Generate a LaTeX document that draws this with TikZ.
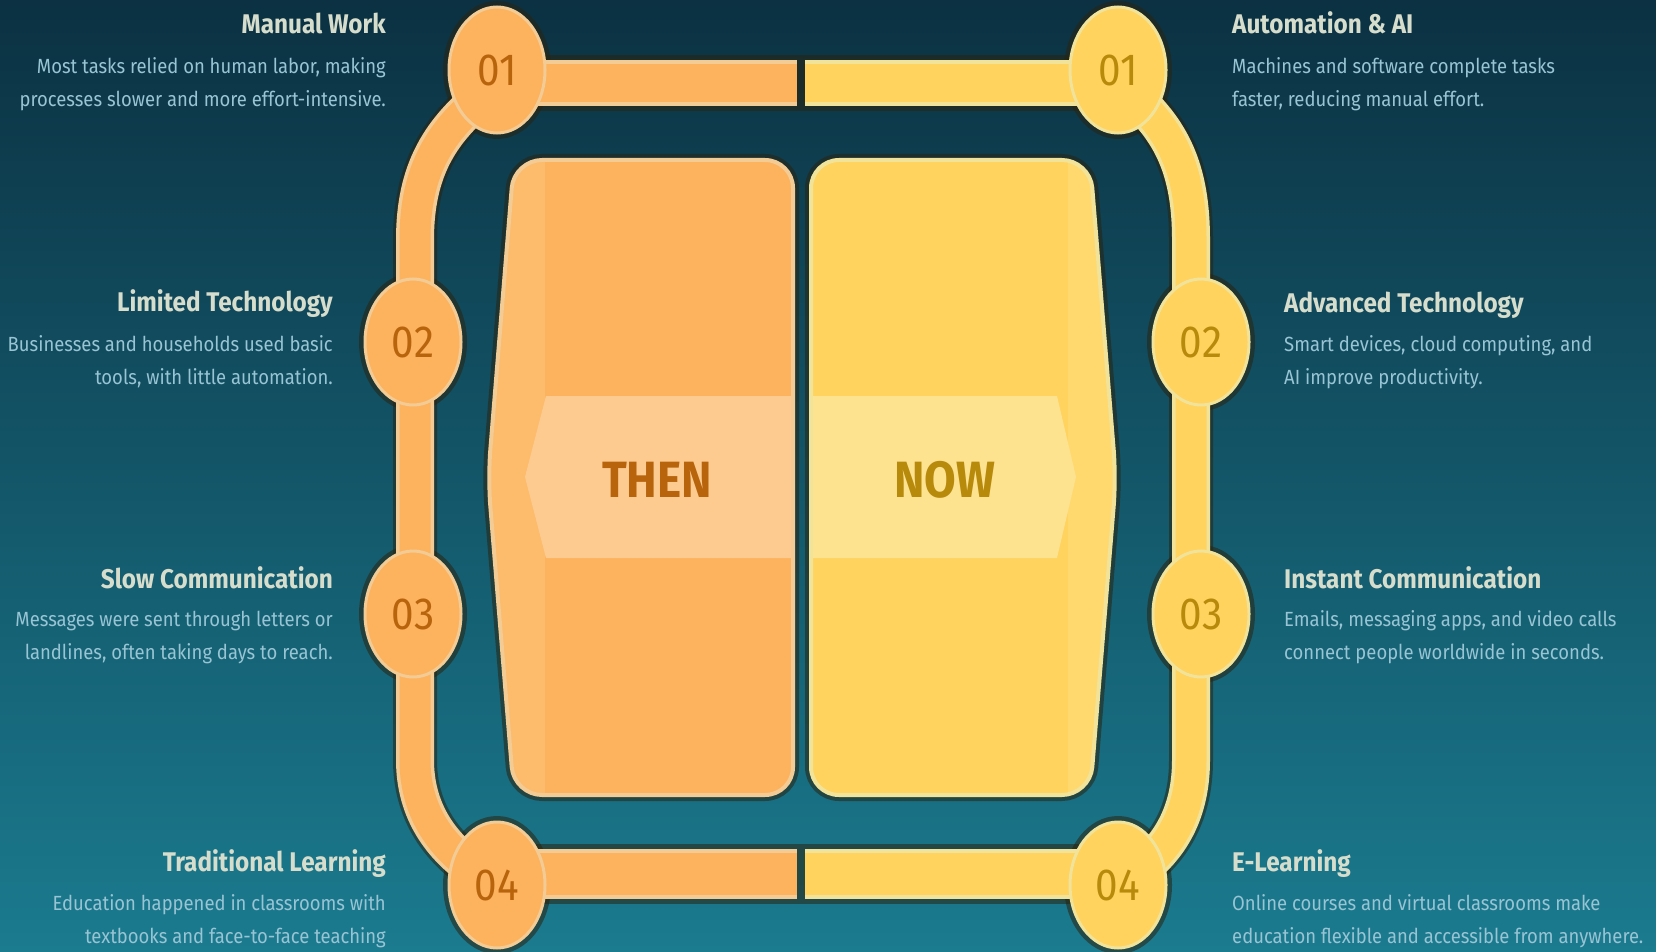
\documentclass[tikz,border=0pt]{standalone}
\usepackage{fontspec}
\setmainfont{Fira Sans}[FakeStretch=0.9]
\usetikzlibrary{shapes.geometric}
\definecolor{bgtop}{HTML}{0B3142}
\definecolor{bgmid}{HTML}{135468}
\definecolor{bgbot}{HTML}{1B7B8F}
\definecolor{outc}{HTML}{2A2410}
\definecolor{orM}{HTML}{FDB25E}
\definecolor{orR}{HTML}{F3CB95}
\definecolor{orS}{HTML}{FDBB6C}
\definecolor{orB}{HTML}{FDCB90}
\definecolor{orT}{HTML}{B8640C}
\definecolor{yeM}{HTML}{FFD35E}
\definecolor{yeR}{HTML}{F2E39A}
\definecolor{yeS}{HTML}{FFD96E}
\definecolor{yeB}{HTML}{FDE290}
\definecolor{yeT}{HTML}{B88A0C}
\definecolor{ttlc}{HTML}{D6DDCC}
\definecolor{dscc}{HTML}{98C4D4}
\tikzset{
  outl/.style={color=outc, opacity=0.55},
  ttl/.style={font=\bfseries\fontsize{27}{32}\selectfont, text=ttlc, inner sep=0pt},
  dsc/.style={font=\fontsize{20.5}{33}\selectfont, text=dscc, inner sep=0pt},
  num/.style={ellipse, minimum width=96pt, minimum height=126pt, inner sep=0pt, line width=3pt, font=\fontsize{45}{45}\selectfont},
  numL/.style={num, fill=orM, draw=orR, text=orT},
  numR/.style={num, fill=yeM, draw=yeR, text=yeT},
  big/.style={font=\bfseries\fontsize{51}{51}\selectfont, inner sep=0pt},
}
\begin{document}
\begin{tikzpicture}[x=1pt,y=-1pt]
\useasboundingbox (0,0) rectangle (1656,952);
\shade[top color=bgtop, middle color=bgmid, bottom color=bgbot] (0,0) rectangle (1656,952);

% ---------- panels ----------
\draw[outl, line width=12pt, rounded corners=28pt] (650,160) -- (793,160) -- (793,795) -- (514,795) -- (488,478) -- (514,160) -- cycle;
\draw[outl, line width=12pt, rounded corners=28pt] (950,160) -- (1090,160) -- (1116,478) -- (1090,795) -- (811,795) -- (811,160) -- cycle;
\begin{scope}
  \clip[rounded corners=28pt] (650,160) -- (793,160) -- (793,795) -- (514,795) -- (488,478) -- (514,160) -- cycle;
  \fill[orM] (480,150) rectangle (800,800);
  \fill[orS] (480,150) rectangle (545,800);
\end{scope}
\draw[orR, line width=4pt, rounded corners=28pt] (650,160) -- (793,160) -- (793,795) -- (514,795) -- (488,478) -- (514,160) -- cycle;
\begin{scope}
  \clip[rounded corners=28pt] (950,160) -- (1090,160) -- (1116,478) -- (1090,795) -- (811,795) -- (811,160) -- cycle;
  \fill[yeM] (805,150) rectangle (1120,800);
  \fill[yeS] (1068,150) rectangle (1120,800);
\end{scope}
\draw[yeR, line width=4pt, rounded corners=28pt] (950,160) -- (1090,160) -- (1116,478) -- (1090,795) -- (811,795) -- (811,160) -- cycle;

% inner bands
\fill[orB] (791,396) -- (546,396) -- (525,477) -- (546,558) -- (791,558) -- cycle;
\fill[yeB] (813,396) -- (1057,396) -- (1076,477) -- (1057,558) -- (813,558) -- cycle;
\node[big, text=orT] (then) at (657,480) {THEN};
\node[big, text=yeT] (now) at (945,480) {NOW};

% ---------- outlines of bars, bands, circles ----------
\fill[outl] (497,55) rectangle (801,111);
\fill[outl] (801,55) rectangle (1118,111);
\fill[outl] (497,844) rectangle (801,904);
\fill[outl] (801,844) rectangle (1118,904);
\draw[outl, line width=44pt] (488,92) .. controls (440,130) and (415,170) .. (415,240) -- (415,760) .. controls (415,810) and (440,850) .. (488,878);
\draw[outl, line width=44pt] (1128,92) .. controls (1172,130) and (1191,170) .. (1191,240) -- (1191,760) .. controls (1191,810) and (1172,850) .. (1128,878);
\foreach \p in {(497,70),(413,342),(413,614),(497,885),(1118,70),(1201,342),(1201,614),(1118,885)}
  \fill[outl] \p ellipse [x radius=54pt, y radius=69pt];

% ---------- bars ----------
\fill[orR] (497,60) rectangle (797,106);
\fill[orM] (497,64) rectangle (797,102);
\fill[yeR] (805,60) rectangle (1118,106);
\fill[yeM] (805,64) rectangle (1118,102);
\fill[orR] (497,849) rectangle (797,899);
\fill[orM] (497,853) rectangle (797,895);
\fill[yeR] (805,849) rectangle (1118,899);
\fill[yeM] (805,853) rectangle (1118,895);

% ---------- bands ----------
\draw[orR, line width=38pt] (488,92) .. controls (440,130) and (415,170) .. (415,240) -- (415,760) .. controls (415,810) and (440,850) .. (488,878);
\draw[orM, line width=31pt] (488,92) .. controls (440,130) and (415,170) .. (415,240) -- (415,760) .. controls (415,810) and (440,850) .. (488,878);
\draw[yeR, line width=38pt] (1128,92) .. controls (1172,130) and (1191,170) .. (1191,240) -- (1191,760) .. controls (1191,810) and (1172,850) .. (1128,878);
\draw[yeM, line width=31pt] (1128,92) .. controls (1172,130) and (1191,170) .. (1191,240) -- (1191,760) .. controls (1191,810) and (1172,850) .. (1128,878);

% ---------- number circles ----------
\node[numL] (l1) at (497,70) {01};
\node[numL] (l2) at (413,342) {02};
\node[numL] (l3) at (413,614) {03};
\node[numL] (l4) at (497,885) {04};
\node[numR] (r1) at (1118,70) {01};
\node[numR] (r2) at (1201,342) {02};
\node[numR] (r3) at (1201,614) {03};
\node[numR] (r4) at (1118,885) {04};

% ---------- texts left ----------
\node[ttl, anchor=east] (t1) at (386,23) {Manual Work};
\node[dsc, anchor=east, align=right] (d1) at (386,84) {Most tasks relied on human labor, making\\processes slower and more effort-intensive.};
\node[ttl, anchor=east] (t2) at (333,304) {Limited Technology};
\node[dsc, anchor=east, align=right] (d2) at (333,362) {Businesses and households used basic\\tools, with little automation.};
\node[ttl, anchor=east] (t3) at (333,578) {Slow Communication};
\node[dsc, anchor=east, align=right] (d3) at (333,637) {Messages were sent through letters or\\landlines, often taking days to reach.};
\node[ttl, anchor=east] (t4) at (386,864) {Traditional Learning};
\node[dsc, anchor=east, align=right] (d4) at (386,921) {Education happened in classrooms with\\textbooks and face-to-face teaching};

% ---------- texts right ----------
\node[ttl, anchor=west] (u1) at (1232,23) {Automation \& AI};
\node[dsc, anchor=west, align=left] (e1) at (1232,84) {Machines and software complete tasks\\faster, reducing manual effort.};
\node[ttl, anchor=west] (u2) at (1284,305) {Advanced Technology};
\node[dsc, anchor=west, align=left] (e2) at (1284,362) {Smart devices, cloud computing, and\\AI improve productivity.};
\node[ttl, anchor=west] (u3) at (1284,578) {Instant Communication};
\node[dsc, anchor=west, align=left] (e3) at (1284,637) {Emails, messaging apps, and video calls\\connect people worldwide in seconds.};
\node[ttl, anchor=west] (u4) at (1232,864) {E-Learning};
\node[dsc, anchor=west, align=left] (e4) at (1232,921) {Online courses and virtual classrooms make\\education flexible and accessible from anywhere.};
\end{tikzpicture}
\end{document}
